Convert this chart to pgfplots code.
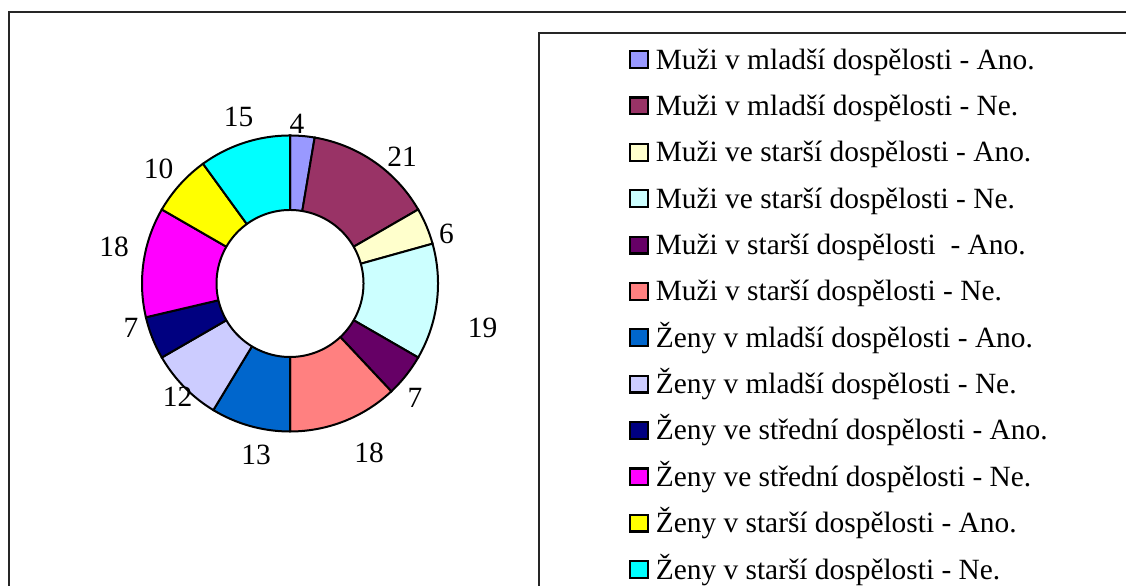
\documentclass[border=0pt]{standalone}
\usepackage{pgfplots}
\pgfplotsset{compat=1.18}
\usepackage{pgfplotstable}
\usepackage{fontspec}
\setmainfont{Liberation Serif}

\definecolor{c1}{HTML}{9999FF}
\definecolor{c2}{HTML}{993366}
\definecolor{c3}{HTML}{FFFFCC}
\definecolor{c4}{HTML}{CCFFFF}
\definecolor{c5}{HTML}{660066}
\definecolor{c6}{HTML}{FF8080}
\definecolor{c7}{HTML}{0066CC}
\definecolor{c8}{HTML}{CCCCFF}
\definecolor{c9}{HTML}{000080}
\definecolor{c10}{HTML}{FF00FF}
\definecolor{c11}{HTML}{FFFF00}
\definecolor{c12}{HTML}{00FFFF}

% values, slice colour, label position (pixels from top-left)
\pgfplotstableread{
val col lx ly
4  c1  297   124
21 c2  402   157
6  c3  446.5 234
19 c4  482.5 328
7  c5  415   398
18 c6  369   453
13 c7  256   455
12 c8  177.5 397
7  c9  131   328
18 c10 114   247
10 c11 158.5 169
15 c12 238.5 117
}\donutdata

\def\cx{290}
\def\cy{302.5}
\def\Rout{148}
\def\Rin{73.5}

% cumulative angles
\xdef\total{0}
\foreach \i in {0,...,11}{%
  \pgfplotstablegetelem{\i}{val}\of\donutdata
  \pgfmathsetmacro\tmp{\total+\pgfplotsretval}%
  \xdef\total{\tmp}}
\xdef\cum{0}
\foreach \i in {0,...,11}{%
  \pgfplotstablegetelem{\i}{val}\of\donutdata
  \pgfmathsetmacro\sa{90-\cum/\total*360}%
  \pgfmathsetmacro\newcum{\cum+\pgfplotsretval}%
  \pgfmathsetmacro\ea{90-\newcum/\total*360}%
  \expandafter\xdef\csname segS\i\endcsname{\sa}%
  \expandafter\xdef\csname segE\i\endcsname{\ea}%
  \xdef\cum{\newcum}%
  \pgfplotstablegetelem{\i}{col}\of\donutdata
  \expandafter\xdef\csname segC\i\endcsname{\pgfplotsretval}%
}

\begin{document}
\begin{tikzpicture}[x=1bp,y=1bp]
\useasboundingbox (0,0) rectangle (1126,586);
\clip (0,0) rectangle (1126,586);
% outer chart frame
\draw[line width=1.5bp, black!85] (9,-20) -- (9,574) -- (1200,574);
% legend frame
\draw[line width=1.1bp, black!85] (539,-20) -- (539,553) -- (1200,553);
\begin{axis}[
  scale only axis, width=1126bp, height=586bp,
  xmin=0, xmax=1126, ymin=0, ymax=586,
  at={(0,0)}, anchor=south west,
  hide axis, clip=false,
  legend image code/.code={\draw[#1, draw=black, line width=2.2bp] (0bp,-8.4bp) rectangle (18.6bp,8.4bp);},
  legend cell align=left,
  legend style={at={(axis cs:628.5,549.6)}, anchor=north west, draw=none, fill=none,
    inner sep=0pt, outer sep=0pt, row sep=0pt, column sep=6.5bp,
    font=\fontsize{29.5}{35}\selectfont,
    nodes={inner sep=0pt, outer sep=0pt, text height=32.68bp, text depth=13.68bp}},
]
\pgfplotsinvokeforeach{0,...,11}{%
  \edef\doseg{\noexpand\addplot[fill=\csname segC#1\endcsname, draw=black, line width=2bp,
      domain=\csname segE#1\endcsname:\csname segS#1\endcsname, samples=60, variable=\noexpand\t]
      ({\cx+\Rout*cos(\noexpand\t)},{\cy+\Rout*sin(\noexpand\t)}) -- (axis cs:\cx,\cy) -- cycle;}%
  \doseg
}
\addplot[forget plot, fill=white, draw=black, line width=2bp, domain=0:360, samples=181, variable=\t]
  ({\cx+\Rin*cos(\t)},{\cy+\Rin*sin(\t)}) -- cycle;
\addplot[forget plot, draw=none, nodes near coords, point meta=explicit symbolic,
  nodes near coords align=center,
  every node near coord/.append style={font=\fontsize{29.5}{35}\selectfont, anchor=center, inner sep=0pt}]
  table[x=lx, y expr=586-\thisrow{ly}, meta=val]{\donutdata};
\legend{Muži v mladší dospělosti - Ano.,
  Muži v mladší dospělosti - Ne.,
  Muži ve starší dospělosti - Ano.,
  Muži ve starší dospělosti - Ne.,
  Muži v starší dospělosti\ \ - Ano.,
  Muži v starší dospělosti - Ne.,
  Ženy v mladší dospělosti - Ano.,
  Ženy v mladší dospělosti - Ne.,
  Ženy ve střední dospělosti - Ano.,
  Ženy ve střední dospělosti - Ne.,
  Ženy v starší dospělosti - Ano.,
  Ženy v starší dospělosti - Ne.}
\end{axis}
\end{tikzpicture}
\end{document}
